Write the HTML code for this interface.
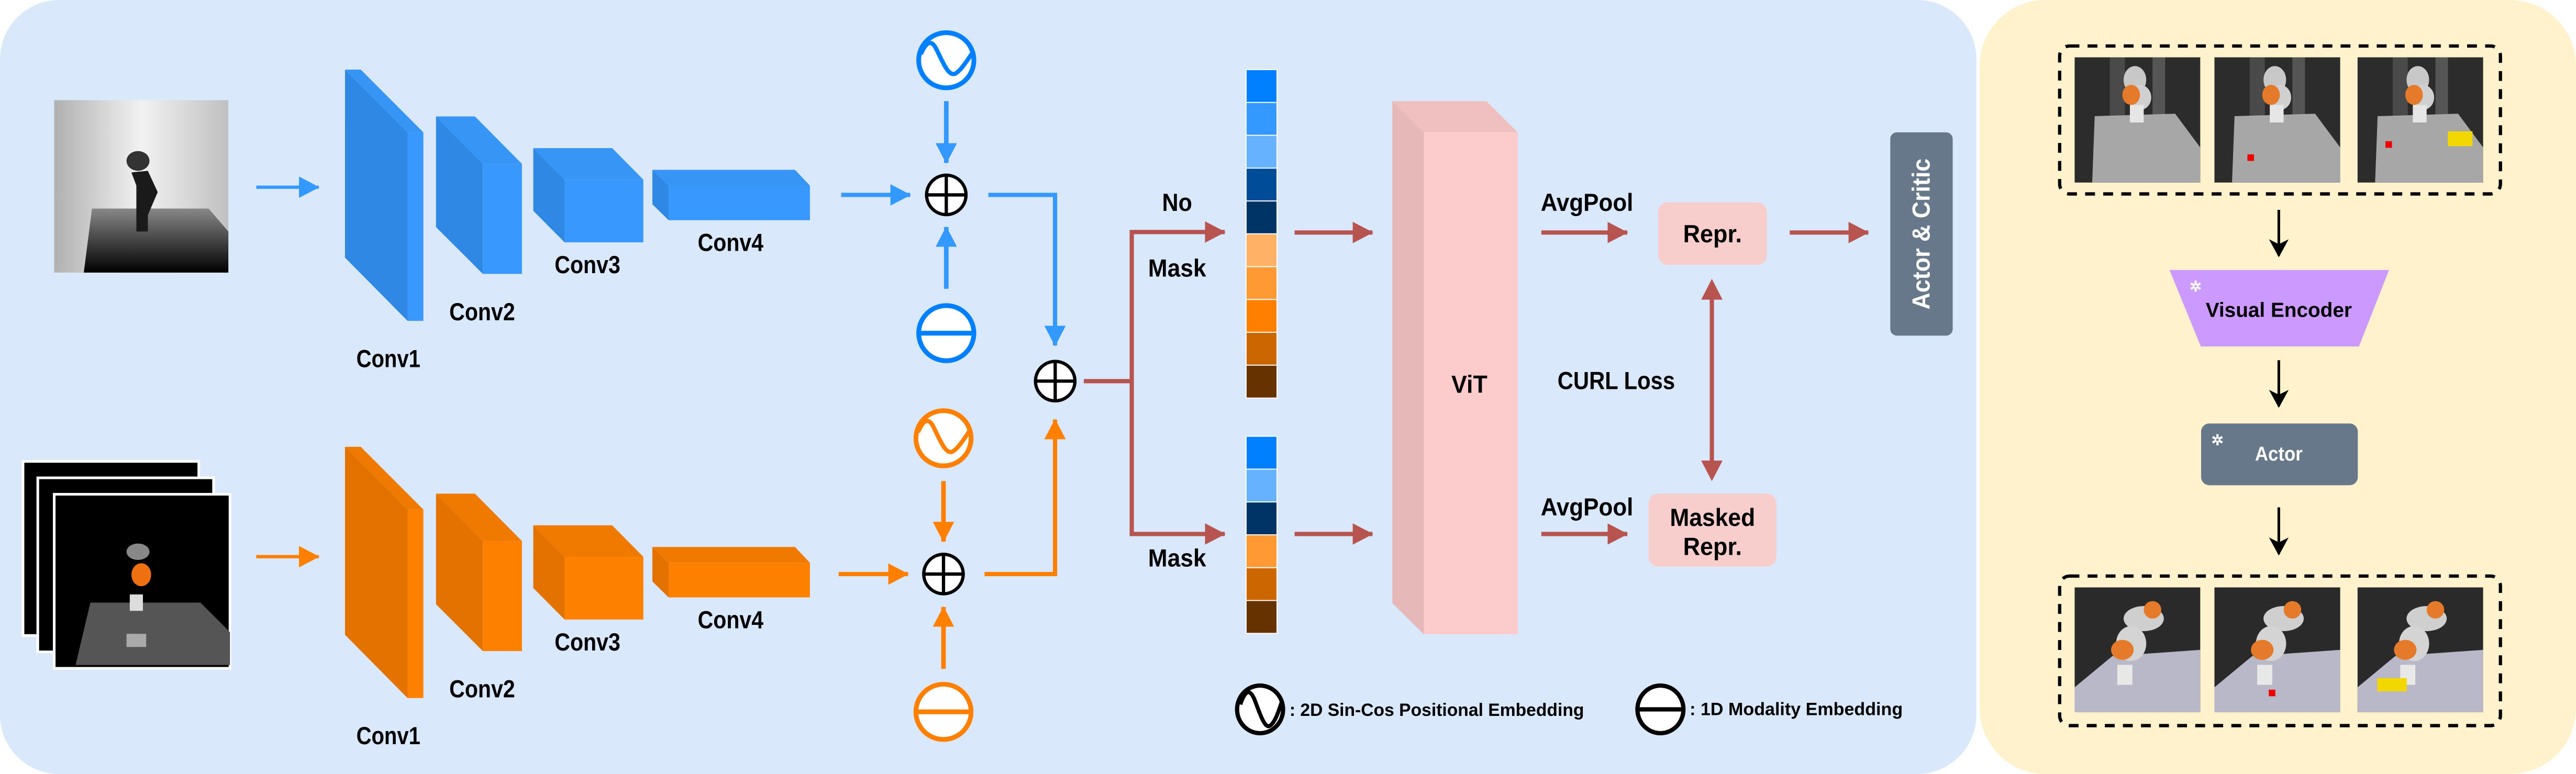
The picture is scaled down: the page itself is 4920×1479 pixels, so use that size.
<!DOCTYPE html>
<html><head><meta charset="utf-8"><style>
html,body{margin:0;padding:0;background:#fff;}
svg{display:block;}
text{font-family:"Liberation Sans",Arial,sans-serif;font-weight:bold;}
</style></head><body>
<svg width="4920" height="1479" viewBox="0 0 1568 471.36" preserveAspectRatio="none" xmlns="http://www.w3.org/2000/svg">
<defs>
<marker id="mb" markerUnits="userSpaceOnUse" markerWidth="14" markerHeight="14" refX="12" refY="6.5" orient="auto"><path d="M0,0 L12.5,6.5 L0,13 z" fill="#3399ff"/></marker>
<marker id="mo" markerUnits="userSpaceOnUse" markerWidth="14" markerHeight="14" refX="12" refY="6.5" orient="auto"><path d="M0,0 L12.5,6.5 L0,13 z" fill="#ff8000"/></marker>
<marker id="mr" markerUnits="userSpaceOnUse" markerWidth="14" markerHeight="14" refX="12" refY="6.5" orient="auto"><path d="M0,0 L12.5,6.5 L0,13 z" fill="#b85450"/></marker>
<marker id="mk" markerUnits="userSpaceOnUse" markerWidth="14" markerHeight="14" refX="10" refY="6" orient="auto"><path d="M0,0 L11,6 L0,12 L3,6 z" fill="#000"/></marker>
<linearGradient id="depthbg" x1="0" x2="1" y1="0" y2="0"><stop offset="0" stop-color="#b0b0b0"/><stop offset="0.5" stop-color="#f2f2f2"/><stop offset="1" stop-color="#c0c0c0"/></linearGradient>
<linearGradient id="depthtbl" x1="0" x2="0" y1="0" y2="1"><stop offset="0" stop-color="#888"/><stop offset="1" stop-color="#000"/></linearGradient>
<symbol id="ptop" viewBox="0 0 100 100" preserveAspectRatio="none">
<rect width="100" height="100" fill="#2c2c2c"/>
<rect x="28" width="12" height="60" fill="#4a4a4a"/><rect x="62" width="10" height="55" fill="#555"/>
<polygon points="16,47 80,45 100,72 100,100 14,100" fill="#a7a7a7"/>
<ellipse cx="48" cy="18" rx="9" ry="11" fill="#c8c8c8"/><ellipse cx="52" cy="32" rx="9" ry="10" fill="#d0d0d0"/>
<ellipse cx="45" cy="30" rx="7" ry="8" fill="#e47a2a"/><rect x="44" y="38" width="11" height="14" fill="#e6e6e6"/>
</symbol>
<symbol id="pbot" viewBox="0 0 100 100" preserveAspectRatio="none">
<rect width="100" height="100" fill="#2a2a2a"/>
<polygon points="0,80 30,55 100,50 100,100 0,100" fill="#b8b8c8"/>
<ellipse cx="55" cy="25" rx="16" ry="10" fill="#cfcfcf"/><ellipse cx="45" cy="45" rx="12" ry="14" fill="#d4d4d4"/>
<ellipse cx="38" cy="50" rx="9" ry="8" fill="#e47a2a"/><ellipse cx="62" cy="18" rx="7" ry="7" fill="#e47a2a"/>
<rect x="34" y="62" width="12" height="16" fill="#e8e8e8"/>
</symbol>
</defs>

<!-- panels -->
<rect x="0" y="0" width="1203" height="471.36" rx="36" fill="#dae8fc"/>
<rect x="1205" y="0" width="363" height="471.36" rx="40" fill="#fff2cc"/>

<!-- depth image -->
<rect x="33" y="61" width="106" height="105" fill="url(#depthbg)"/>
<polygon points="56,127 127,127 139,141 139,166 51,166" fill="url(#depthtbl)"/>
<ellipse cx="84" cy="98" rx="7" ry="6" fill="#333"/><path d="M80,105 L90,104 L96,117 L90,131 L90,141 L83,141 L83,113 z" fill="#1a1a1a"/>

<!-- stacked images -->
<rect x="14" y="281" width="107" height="106" fill="#000" stroke="#fff" stroke-width="1.6"/>
<rect x="23" y="291" width="107" height="106" fill="#000" stroke="#fff" stroke-width="1.6"/>
<rect x="33" y="301" width="107" height="106" fill="#000" stroke="#fff" stroke-width="1.6"/>
<polygon points="55,367 122,367 140,385 140,405 46,405" fill="#555"/>
<ellipse cx="84" cy="336" rx="7" ry="5" fill="#888"/><ellipse cx="86" cy="350" rx="6" ry="7" fill="#ee7011"/>
<rect x="79" y="362" width="8" height="10" fill="#ddd"/><rect x="77" y="386" width="12" height="8" fill="#aaa"/>

<!-- input arrows -->
<line x1="156" y1="114" x2="194" y2="114" stroke="#3399ff" stroke-width="2" marker-end="url(#mb)"/>
<line x1="156" y1="339" x2="194" y2="339" stroke="#ff8000" stroke-width="2" marker-end="url(#mo)"/>

<!-- blue convs -->
<g>
<polygon points="210,42.4 248.1,80.6 248.1,195.4 210,156.9" fill="#2f88e3"/>
<polygon points="210,42.4 219.6,42.4 257.7,80.6 248.1,80.6" fill="#3695f5"/>
<rect x="248.1" y="80.6" width="9.6" height="114.8" fill="#3898fd"/>
<polygon points="265.4,70.9 293.9,99.8 293.9,166.8 265.4,138.3" fill="#2f88e3"/>
<polygon points="265.4,70.9 289.1,70.9 317.7,99.8 293.9,99.8" fill="#3695f5"/>
<rect x="293.9" y="99.8" width="23.8" height="67" fill="#3898fd"/>
<polygon points="324.6,90.2 343.7,109.4 343.7,147.6 324.6,128.4" fill="#2f88e3"/>
<polygon points="324.6,90.2 372.6,90.2 391.6,109.4 343.7,109.4" fill="#3695f5"/>
<rect x="343.7" y="109.4" width="47.9" height="38.2" fill="#3898fd"/>
<polygon points="397.1,103.4 407,113 407,134.1 397.1,124.4" fill="#2f88e3"/>
<polygon points="397.1,103.4 483.9,103.4 493,113 407,113" fill="#3695f5"/>
<rect x="407" y="113" width="86" height="21.1" fill="#3898fd"/>
</g>
<text x="236.4" y="223.5" font-size="15" text-anchor="middle" textLength="39" lengthAdjust="spacingAndGlyphs">Conv1</text>
<text x="293.5" y="195" font-size="15" text-anchor="middle" textLength="40" lengthAdjust="spacingAndGlyphs">Conv2</text>
<text x="357.6" y="166.4" font-size="15" text-anchor="middle" textLength="40" lengthAdjust="spacingAndGlyphs">Conv3</text>
<text x="444.7" y="152.9" font-size="15" text-anchor="middle" textLength="40" lengthAdjust="spacingAndGlyphs">Conv4</text>

<!-- orange convs -->
<g transform="translate(0,229.7)">
<polygon points="210,42.4 248.1,80.6 248.1,195.4 210,156.9" fill="#e37200"/>
<polygon points="210,42.4 219.6,42.4 257.7,80.6 248.1,80.6" fill="#f07a00"/>
<rect x="248.1" y="80.6" width="9.6" height="114.8" fill="#fd8000"/>
<polygon points="265.4,70.9 293.9,99.8 293.9,166.8 265.4,138.3" fill="#e37200"/>
<polygon points="265.4,70.9 289.1,70.9 317.7,99.8 293.9,99.8" fill="#f07a00"/>
<rect x="293.9" y="99.8" width="23.8" height="67" fill="#fd8000"/>
<polygon points="324.6,90.2 343.7,109.4 343.7,147.6 324.6,128.4" fill="#e37200"/>
<polygon points="324.6,90.2 372.6,90.2 391.6,109.4 343.7,109.4" fill="#f07a00"/>
<rect x="343.7" y="109.4" width="47.9" height="38.2" fill="#fd8000"/>
<polygon points="397.1,103.4 407,113 407,134.1 397.1,124.4" fill="#e37200"/>
<polygon points="397.1,103.4 483.9,103.4 493,113 407,113" fill="#f07a00"/>
<rect x="407" y="113" width="86" height="21.1" fill="#fd8000"/>
<text x="236.4" y="223.5" font-size="15" text-anchor="middle" textLength="39" lengthAdjust="spacingAndGlyphs">Conv1</text>
<text x="293.5" y="195" font-size="15" text-anchor="middle" textLength="40" lengthAdjust="spacingAndGlyphs">Conv2</text>
<text x="357.6" y="166.4" font-size="15" text-anchor="middle" textLength="40" lengthAdjust="spacingAndGlyphs">Conv3</text>
<text x="444.7" y="152.9" font-size="15" text-anchor="middle" textLength="40" lengthAdjust="spacingAndGlyphs">Conv4</text>
</g>

<!-- arrows after conv4 -->
<line x1="512" y1="118.7" x2="554" y2="118.7" stroke="#3399ff" stroke-width="2.6" marker-end="url(#mb)"/>
<line x1="510.5" y1="349.6" x2="552.7" y2="349.6" stroke="#ff8000" stroke-width="2.6" marker-end="url(#mo)"/>

<!-- blue embedding column -->
<circle cx="576" cy="36.7" r="16.8" fill="#fff" stroke="#0080ff" stroke-width="2.9"/>
<path d="M560.5,33 C564,25 567,24 570,30 C574,38 577,46 581,45 C584,44 588,38 592,32" fill="none" stroke="#0080ff" stroke-width="2.6"/>
<line x1="576" y1="61.6" x2="576" y2="99.2" stroke="#3399ff" stroke-width="2.8" marker-end="url(#mb)"/>
<circle cx="576" cy="118.7" r="12" fill="#fff" stroke="#000" stroke-width="2"/>
<line x1="564" y1="118.7" x2="588" y2="118.7" stroke="#000" stroke-width="2"/><line x1="576" y1="106.7" x2="576" y2="130.7" stroke="#000" stroke-width="2"/>
<line x1="576" y1="175.9" x2="576" y2="138.3" stroke="#3399ff" stroke-width="2.8" marker-end="url(#mb)"/>
<circle cx="576" cy="202.9" r="16.8" fill="#fff" stroke="#0080ff" stroke-width="2.9"/>
<line x1="559" y1="202.9" x2="593" y2="202.9" stroke="#0080ff" stroke-width="2.9"/>
<polyline points="601.6,118.7 642.2,118.7 642.2,210.4" fill="none" stroke="#3399ff" stroke-width="2.6" marker-end="url(#mb)"/>

<!-- orange embedding column -->
<circle cx="574.3" cy="266.9" r="16.8" fill="#fff" stroke="#ff8000" stroke-width="2.9"/>
<path d="M558.8,263.2 C562.3,255.2 565.3,254.2 568.3,260.2 C572.3,268.2 575.3,276.2 579.3,275.2 C582.3,274.2 586.3,268.2 590.3,262.2" fill="none" stroke="#ff8000" stroke-width="2.6"/>
<line x1="574.3" y1="293" x2="574.3" y2="329.8" stroke="#ff8000" stroke-width="2.8" marker-end="url(#mo)"/>
<circle cx="574.3" cy="349.6" r="12" fill="#fff" stroke="#000" stroke-width="2"/>
<line x1="562.3" y1="349.6" x2="586.3" y2="349.6" stroke="#000" stroke-width="2"/><line x1="574.3" y1="337.6" x2="574.3" y2="361.6" stroke="#000" stroke-width="2"/>
<line x1="574.3" y1="407.3" x2="574.3" y2="369.7" stroke="#ff8000" stroke-width="2.8" marker-end="url(#mo)"/>
<circle cx="574.3" cy="433.5" r="16.8" fill="#fff" stroke="#ff8000" stroke-width="2.9"/>
<line x1="557.3" y1="433.5" x2="591.3" y2="433.5" stroke="#ff8000" stroke-width="2.9"/>
<polyline points="599.3,349.6 642.2,349.6 642.2,255.5" fill="none" stroke="#ff8000" stroke-width="2.6" marker-end="url(#mo)"/>

<!-- center oplus -->
<circle cx="642.3" cy="232.1" r="12" fill="#fff" stroke="#000" stroke-width="2"/>
<line x1="630.3" y1="232.1" x2="654.3" y2="232.1" stroke="#000" stroke-width="2"/><line x1="642.3" y1="220.1" x2="642.3" y2="244.1" stroke="#000" stroke-width="2"/>

<!-- red split -->
<polyline points="659.7,232.1 688.9,232.1" fill="none" stroke="#b85450" stroke-width="2.6"/>
<polyline points="688.9,232.1 688.9,141.3 745.5,141.3" fill="none" stroke="#b85450" stroke-width="2.6" marker-end="url(#mr)"/>
<polyline points="688.9,232.1 688.9,325.2 745.5,325.2" fill="none" stroke="#b85450" stroke-width="2.6" marker-end="url(#mr)"/>
<text x="716.5" y="128.5" font-size="15" text-anchor="middle" textLength="18.3" lengthAdjust="spacingAndGlyphs">No</text>
<text x="716.5" y="168.5" font-size="15" text-anchor="middle" textLength="35.3" lengthAdjust="spacingAndGlyphs">Mask</text>
<text x="716.5" y="345" font-size="15" text-anchor="middle" textLength="35.3" lengthAdjust="spacingAndGlyphs">Mask</text>

<!-- token columns -->
<g stroke="#fff" stroke-width="0.6">
<rect x="758.5" y="42.4" width="18.8" height="20" fill="#0080ff"/>
<rect x="758.5" y="62.4" width="18.8" height="20" fill="#3399ff"/>
<rect x="758.5" y="82.4" width="18.8" height="20" fill="#66b2ff"/>
<rect x="758.5" y="102.4" width="18.8" height="20" fill="#004c99"/>
<rect x="758.5" y="122.4" width="18.8" height="20" fill="#003366"/>
<rect x="758.5" y="142.4" width="18.8" height="20" fill="#ffb266"/>
<rect x="758.5" y="162.4" width="18.8" height="20" fill="#ff9933"/>
<rect x="758.5" y="182.4" width="18.8" height="20" fill="#ff8000"/>
<rect x="758.5" y="202.4" width="18.8" height="20" fill="#cc6600"/>
<rect x="758.5" y="222.4" width="18.8" height="20" fill="#663300"/>
<rect x="758.5" y="265.7" width="18.8" height="20" fill="#0080ff"/>
<rect x="758.5" y="285.7" width="18.8" height="20" fill="#66b2ff"/>
<rect x="758.5" y="305.7" width="18.8" height="20" fill="#003366"/>
<rect x="758.5" y="325.7" width="18.8" height="20" fill="#ff9933"/>
<rect x="758.5" y="345.7" width="18.8" height="20" fill="#cc6600"/>
<rect x="758.5" y="365.7" width="18.8" height="20" fill="#663300"/>
</g>
<line x1="788" y1="141.6" x2="835.4" y2="141.6" stroke="#b85450" stroke-width="2.6" marker-end="url(#mr)"/>
<line x1="788" y1="325.2" x2="835.4" y2="325.2" stroke="#b85450" stroke-width="2.6" marker-end="url(#mr)"/>

<!-- ViT -->
<polygon points="847.5,61.6 866.7,80.6 866.7,386.3 847.5,367.3" fill="#e6b8b7"/>
<polygon points="847.5,61.6 904.7,61.6 923.9,80.6 866.7,80.6" fill="#f0c0c0"/>
<rect x="866.7" y="80.6" width="57.2" height="305.7" fill="#fccbcb"/>
<text x="894.4" y="239.2" font-size="15" text-anchor="middle" textLength="21.9" lengthAdjust="spacingAndGlyphs">ViT</text>

<!-- AvgPool / Repr -->
<text x="966" y="128.5" font-size="15" text-anchor="middle" textLength="56.3" lengthAdjust="spacingAndGlyphs">AvgPool</text>
<line x1="938.2" y1="141.6" x2="990.5" y2="141.6" stroke="#b85450" stroke-width="2.6" marker-end="url(#mr)"/>
<rect x="1009.3" y="123.2" width="66.2" height="38.2" rx="6" fill="#f8cecc"/>
<text x="1042.4" y="147.5" font-size="15" text-anchor="middle" textLength="35.8" lengthAdjust="spacingAndGlyphs">Repr.</text>
<line x1="1089.4" y1="141.6" x2="1137.2" y2="141.6" stroke="#b85450" stroke-width="2.6" marker-end="url(#mr)"/>

<text x="966" y="314" font-size="15" text-anchor="middle" textLength="56.3" lengthAdjust="spacingAndGlyphs">AvgPool</text>
<line x1="938.2" y1="325.2" x2="990.5" y2="325.2" stroke="#b85450" stroke-width="2.6" marker-end="url(#mr)"/>
<rect x="1003.5" y="300.6" width="77.8" height="44.5" rx="6" fill="#f8cecc"/>
<text x="1042.4" y="320.3" font-size="15" text-anchor="middle" textLength="51.9" lengthAdjust="spacingAndGlyphs">Masked</text>
<text x="1042.4" y="338" font-size="15" text-anchor="middle" textLength="35.8" lengthAdjust="spacingAndGlyphs">Repr.</text>

<text x="983.8" y="237" font-size="15" text-anchor="middle" textLength="71.5" lengthAdjust="spacingAndGlyphs">CURL Loss</text>
<line x1="1042" y1="182" x2="1042" y2="281" stroke="#b85450" stroke-width="2.6"/>
<path d="M1035.5,182.5 L1042,169.8 L1048.5,182.5 z" fill="#b85450"/>
<path d="M1035.5,280.5 L1042,293 L1048.5,280.5 z" fill="#b85450"/>

<!-- Actor & Critic -->
<rect x="1150.6" y="80.6" width="38" height="123.8" rx="4" fill="#66788a"/>
<text transform="translate(1174.5,142.5) rotate(-90)" font-size="15" fill="#fff" text-anchor="middle" textLength="92" lengthAdjust="spacingAndGlyphs">Actor &amp; Critic</text>

<!-- legend -->
<ellipse cx="767" cy="432" rx="14" ry="14.5" fill="#fff" stroke="#000" stroke-width="2.6"/>
<path d="M755,429 C758,420 761,419 764,427 C767,435 770,444 773,442 C776,440 778,434 780,428" fill="none" stroke="#000" stroke-width="2.4"/>
<text x="784.9" y="436" font-size="11" textLength="179.3" lengthAdjust="spacingAndGlyphs">:  2D Sin-Cos Positional Embedding</text>
<ellipse cx="1010.7" cy="432" rx="14" ry="14.5" fill="#fff" stroke="#000" stroke-width="2.6"/>
<line x1="996.7" y1="432" x2="1024.7" y2="432" stroke="#000" stroke-width="2.6"/>
<text x="1028.5" y="435.5" font-size="11" textLength="129.7" lengthAdjust="spacingAndGlyphs">:  1D Modality Embedding</text>

<!-- right panel -->
<rect x="1253.7" y="28" width="268.3" height="90.1" rx="6" fill="none" stroke="#000" stroke-width="2" stroke-dasharray="6,5"/>
<use href="#ptop" x="1262.8" y="34.9" width="76.5" height="76.3"/>
<use href="#ptop" x="1347.9" y="34.9" width="76.6" height="76.3"/>
<use href="#ptop" x="1435" y="34.9" width="76.5" height="76.3"/>
<rect x="1368" y="94" width="4" height="4" fill="#e00"/>
<rect x="1452" y="86" width="4" height="4" fill="#e00"/><rect x="1490" y="80" width="15" height="9" fill="#f2d800"/>

<line x1="1387.1" y1="127.8" x2="1387.1" y2="155.7" stroke="#000" stroke-width="1.6" marker-end="url(#mk)"/>
<polygon points="1320.6,164.4 1454.2,164.4 1435.9,211 1339.6,211" fill="#cc99ff"/>
<text x="1336.5" y="177.5" font-size="9" fill="#fff" text-anchor="middle">✲</text>
<text x="1387.1" y="193" font-size="12.5" text-anchor="middle" textLength="89" lengthAdjust="spacingAndGlyphs">Visual Encoder</text>
<line x1="1387.1" y1="219.4" x2="1387.1" y2="247.4" stroke="#000" stroke-width="1.6" marker-end="url(#mk)"/>
<rect x="1339.8" y="257.9" width="95.4" height="37.6" rx="5" fill="#66788a"/>
<text x="1349.8" y="271" font-size="9" fill="#fff" text-anchor="middle">✲</text>
<text x="1387.1" y="280.5" font-size="12" fill="#fff" text-anchor="middle" textLength="29" lengthAdjust="spacingAndGlyphs">Actor</text>
<line x1="1387.1" y1="309" x2="1387.1" y2="337.3" stroke="#000" stroke-width="1.6" marker-end="url(#mk)"/>

<rect x="1253.7" y="350.8" width="268.3" height="91.1" rx="6" fill="none" stroke="#000" stroke-width="2" stroke-dasharray="6,5"/>
<use href="#pbot" x="1262.8" y="357.7" width="76.5" height="76.1"/>
<use href="#pbot" x="1347.9" y="357.7" width="76.6" height="76.1"/>
<use href="#pbot" x="1435" y="357.7" width="76.5" height="76.1"/>
<rect x="1381" y="420" width="4" height="4" fill="#e00"/><rect x="1447" y="413" width="18" height="8" fill="#f2d800"/>
</svg>
</body></html>
